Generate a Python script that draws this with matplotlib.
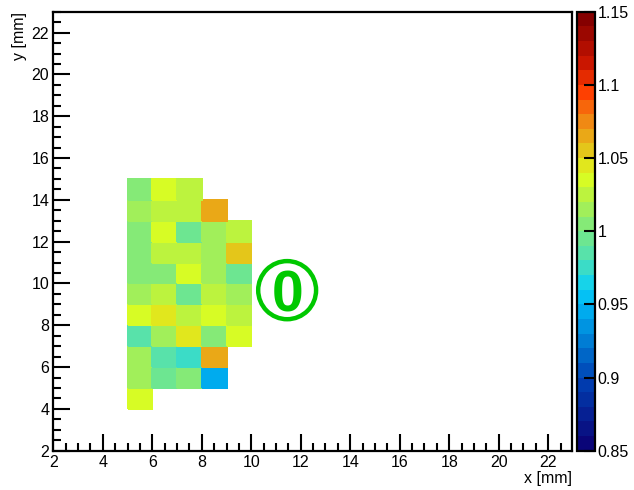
import numpy as np
import matplotlib
matplotlib.use("Agg")
import matplotlib.pyplot as plt
from matplotlib.colors import LinearSegmentedColormap, BoundaryNorm
from matplotlib.patches import Ellipse
from matplotlib.ticker import MultipleLocator

plt.rcParams['font.family'] = ['Liberation Sans', 'DejaVu Sans']

# pixel bins (1 mm), lower edges
x_edges = [5, 6, 7, 8, 9, 10]
y_edges = [4, 5, 6, 7, 8, 9, 10, 11, 12, 13, 14, 15]

# relative response per pixel, rows from y=4 up to y=14, nan = no entry
gain = [
    [1.035, np.nan, np.nan, np.nan, np.nan],
    [1.015, 0.995, 1.005, 0.945, np.nan],
    [1.015, 0.985, 0.975, 1.065, np.nan],
    [0.985, 1.015, 1.045, 1.005, 1.035],
    [1.035, 1.045, 1.025, 1.035, 1.025],
    [1.015, 1.025, 0.995, 1.025, 1.015],
    [1.005, 1.005, 1.035, 1.015, 0.995],
    [1.005, 1.025, 1.025, 1.015, 1.055],
    [1.005, 1.035, 0.995, 1.015, 1.025],
    [1.015, 1.025, 1.025, 1.065, np.nan],
    [1.005, 1.035, 1.025, np.nan, np.nan],
]

z_min, z_max, n_levels = 0.85, 1.15, 30
cbar_ticks = [0.85, 0.9, 0.95, 1.0, 1.05, 1.1, 1.15]

# rainbow palette, dark blue -> cyan -> green -> yellow -> dark red
anchors = [
    (0.00, (0.04, 0.02, 0.47)),
    (0.15, (0.00, 0.25, 0.70)),
    (0.33, (0.00, 0.72, 0.96)),
    (0.37, (0.05, 0.82, 0.95)),
    (0.43, (0.30, 0.88, 0.72)),
    (0.50, (0.47, 0.91, 0.52)),
    (0.60, (0.78, 0.96, 0.20)),
    (0.63, (0.87, 1.00, 0.12)),
    (0.70, (0.90, 0.74, 0.10)),
    (0.77, (0.95, 0.50, 0.07)),
    (0.83, (1.00, 0.24, 0.00)),
    (0.90, (0.78, 0.08, 0.00)),
    (1.00, (0.52, 0.00, 0.00)),
]
cmap = LinearSegmentedColormap.from_list('rainbow55', anchors, N=n_levels)
norm = BoundaryNorm(np.linspace(z_min, z_max, n_levels + 1), n_levels)

fig = plt.figure(figsize=(6.34, 4.90), dpi=100)
ax = fig.add_axes([0.0841, 0.0802, 0.8176, 0.8959])

z = np.ma.masked_invalid(np.array(gain))
mesh = ax.pcolormesh(x_edges, y_edges, z, cmap=cmap, norm=norm,
                     edgecolors='face', linewidth=0.3)

ax.set_xlim(2, 22.95)
ax.set_ylim(2, 23)
ax.xaxis.set_major_locator(MultipleLocator(2))
ax.xaxis.set_minor_locator(MultipleLocator(0.5))
ax.yaxis.set_major_locator(MultipleLocator(2))
ax.yaxis.set_minor_locator(MultipleLocator(0.5))
ax.tick_params(which='both', direction='in', top=False, right=False,
               labelsize=11.5, width=1.5, colors='black')
ax.tick_params(which='major', length=12, pad=3)
ax.tick_params(which='minor', length=6)
for s in ax.spines.values():
    s.set_linewidth(1.6)

ax.set_xlabel('x [mm]', fontsize=11.5, loc='right', labelpad=1)
ax.set_ylabel('y [mm]', fontsize=11.5, loc='top', labelpad=3)

# circled station number
green = '#00c800'
cx, cy = 11.45, 9.68
ax.add_patch(Ellipse((cx, cy), 2.34, 2.78, fill=False, ec=green, lw=3.2))
ax.text(cx, cy, '0', color=green, fontsize=41, fontweight='bold',
        ha='center', va='center_baseline')

cax = fig.add_axes([0.9096, 0.0802, 0.0289, 0.8959])
cb = fig.colorbar(mesh, cax=cax, ticks=cbar_ticks, spacing='proportional')
cb.ax.set_yticklabels(['%g' % t for t in cbar_ticks])
cb.ax.tick_params(direction='in', length=8, width=1.5, labelsize=11.5, pad=2)
cb.ax.minorticks_off()
cb.outline.set_linewidth(1.6)

fig.savefig('out.png', dpi=100)
